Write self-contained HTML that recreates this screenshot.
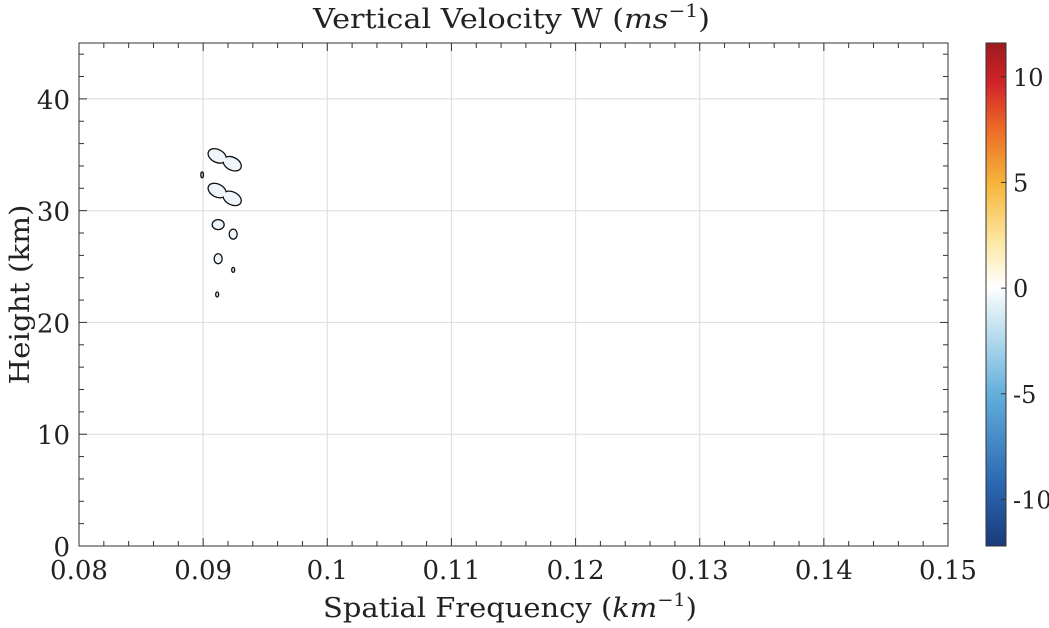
<!DOCTYPE html>
<html><head><meta charset="utf-8"><style>
html,body{margin:0;padding:0;background:#fff;width:1049px;height:628px;overflow:hidden}
text{font-family:"DejaVu Serif","Liberation Serif",serif;fill:#222}
</style></head><body>
<svg id="chart" width="1049" height="628" xmlns="http://www.w3.org/2000/svg"></svg>
<script>
const xTicks=[0.08,0.09,0.1,0.11,0.12,0.13,0.14,0.15];
const xTickLabels=["0.08","0.09","0.1","0.11","0.12","0.13","0.14","0.15"];
const yTicks=[0,10,20,30,40];
const yTickLabels=["0","10","20","30","40"];
const cbTicks=[10,5,0,-5,-10];
const cbTickLabels=["10","5","0","-5","-10"];
// contour features: frequency, height, and end point for elongated ones
const blobFreq=[0.09113,0.09113,0.09121,0.09242,0.09121,0.09242,0.09113,0.08992];
const blobHeight=[34.9,31.8,28.75,27.9,25.7,24.7,22.5,33.2];
const blobFreq2=[0.09234,0.09234,null,null,null,null,null,null];
const blobHeight2=[34.2,31.1,null,null,null,null,null,null];
const blobRx=[9,9,6,4,4,1.5,1.5,1.3];
const blobRy=[5.8,5.8,5,5,5,2.5,2.5,3];

const svg=document.getElementById('chart');
const NS='http://www.w3.org/2000/svg';
const X0=79,X1=948,Y0=546,Y1=43;
const xMin=0.08,xMax=0.15,yMin=0,yMax=45;
const sx=v=>X0+(v-xMin)/(xMax-xMin)*(X1-X0);
const sy=v=>Y0-(v-yMin)/(yMax-yMin)*(Y0-Y1);
const cbX=986,cbW=20,cbMin=-12.2,cbMax=11.6;
const sc=v=>Y0-(v-cbMin)/(cbMax-cbMin)*(Y0-Y1);
function el(t,a,p){const e=document.createElementNS(NS,t);for(const k in a)e.setAttribute(k,a[k]);(p||svg).appendChild(e);return e;}

// grid
const grid=el('g',{});


xTicks.forEach(v=>{if(v>xMin&&v<xMax)el('line',{x1:sx(v),x2:sx(v),y1:Y1,y2:Y0,stroke:'#e0e0e0','stroke-width':1.2},grid);});
yTicks.forEach(v=>{if(v>yMin)el('line',{x1:X0,x2:X1,y1:sy(v),y2:sy(v),stroke:'#e0e0e0','stroke-width':1.2},grid);});

// contours
const cont=el('g',{});


blobFreq.forEach((f,i)=>{
  const g=el('g',{},cont);
  
  
  const fill=i>=5?'#dde':'#eef6fb';
  if(blobFreq2[i]!==null){
    const ax=sx(f),ay=sy(blobHeight[i]),bx=sx(blobFreq2[i]),by=sy(blobHeight2[i]);
    const ang=Math.atan2(by-ay,bx-ax)*180/Math.PI;
    [1,0].forEach(pass=>{
      [[ax,ay],[bx,by]].forEach(p=>{
        el('ellipse',{cx:p[0],cy:p[1],rx:blobRx[i],ry:blobRy[i],transform:`rotate(${ang} ${p[0]} ${p[1]})`,fill:fill,stroke:pass?'#111':'none','stroke-width':pass?2.6:0},g);
      });
    });
  }else{
    el('ellipse',{cx:sx(f),cy:sy(blobHeight[i]),rx:blobRx[i],ry:blobRy[i],fill:fill,stroke:'#111','stroke-width':1.3},g);
  }
});

// axes box
const box=el('rect',{x:X0,y:Y1,width:X1-X0,height:Y0-Y1,fill:'none',stroke:'#333','stroke-width':1});



// ticks
const ticks=el('g',{stroke:'#333','stroke-width':1});
for(let k=0;k<=35;k++){const v=xMin+k*0.002;const L=k%5===0?8:5;
  el('line',{x1:sx(v),x2:sx(v),y1:Y0,y2:Y0-L},ticks);el('line',{x1:sx(v),x2:sx(v),y1:Y1,y2:Y1+L},ticks);}
for(let v=0;v<=44;v+=2){const L=v%10===0?8:5;
  el('line',{x1:X0,x2:X0+L,y1:sy(v),y2:sy(v)},ticks);el('line',{x1:X1,x2:X1-L,y1:sy(v),y2:sy(v)},ticks);}

xTicks.forEach((v,i)=>{const t=el('text',{x:sx(v),y:Y0+33,'text-anchor':'middle','font-size':26});t.textContent=xTickLabels[i];
  
  });
yTicks.forEach((v,i)=>{const t=el('text',{x:X0-9,y:sy(v)+10,'text-anchor':'end','font-size':26});t.textContent=yTickLabels[i];
  
  });

// titles
const tt=el('text',{x:313,y:28,'font-size':27});
tt.innerHTML='Vertical Velocity W (<tspan font-style="italic">ms</tspan><tspan dy="-11" font-size="18">−1</tspan><tspan dy="11">)</tspan>';


const xt=el('text',{x:323,y:617,'font-size':27});
xt.innerHTML='Spatial Frequency (<tspan font-style="italic">km</tspan><tspan dy="-11" font-size="18">−1</tspan><tspan dy="11">)</tspan>';


const yt=el('text',{x:0,y:0,'text-anchor':'middle','font-size':27,transform:`translate(29 ${(Y0+Y1)/2}) rotate(-90)`,textLength:180,lengthAdjust:'spacingAndGlyphs'});
yt.textContent='Height (km)';



// colorbar
const defs=el('defs',{});
const g=el('linearGradient',{id:'cb',x1:0,y1:1,x2:0,y2:0},defs);
[['0','#1a3a7a'],['0.12','#2a66b0'],['0.3','#62aedb'],['0.45','#cfe8f3'],['0.515','#ffffff'],['0.6','#fde9a8'],['0.72','#f6b53c'],['0.83','#ec6a26'],['0.92','#d2232a'],['1','#9b1b1e']].forEach(s=>el('stop',{offset:s[0],'stop-color':s[1]},g));
const cb=el('rect',{x:cbX,y:Y1,width:cbW,height:Y0-Y1,fill:'url(#cb)',stroke:'#333','stroke-width':1});


cbTicks.forEach((v,i)=>{el('line',{x1:cbX+cbW-5,x2:cbX+cbW,y1:sc(v),y2:sc(v),stroke:'#333'});
  const t=el('text',{x:1013,y:sc(v)+9,'font-size':24});t.textContent=cbTickLabels[i];
  
  });
// fit titles to reference widths
[[tt,397],[xt,374]].forEach(([t,w])=>{t.setAttribute('textLength',w);t.setAttribute('lengthAdjust','spacingAndGlyphs');});
</script>
</body></html>
